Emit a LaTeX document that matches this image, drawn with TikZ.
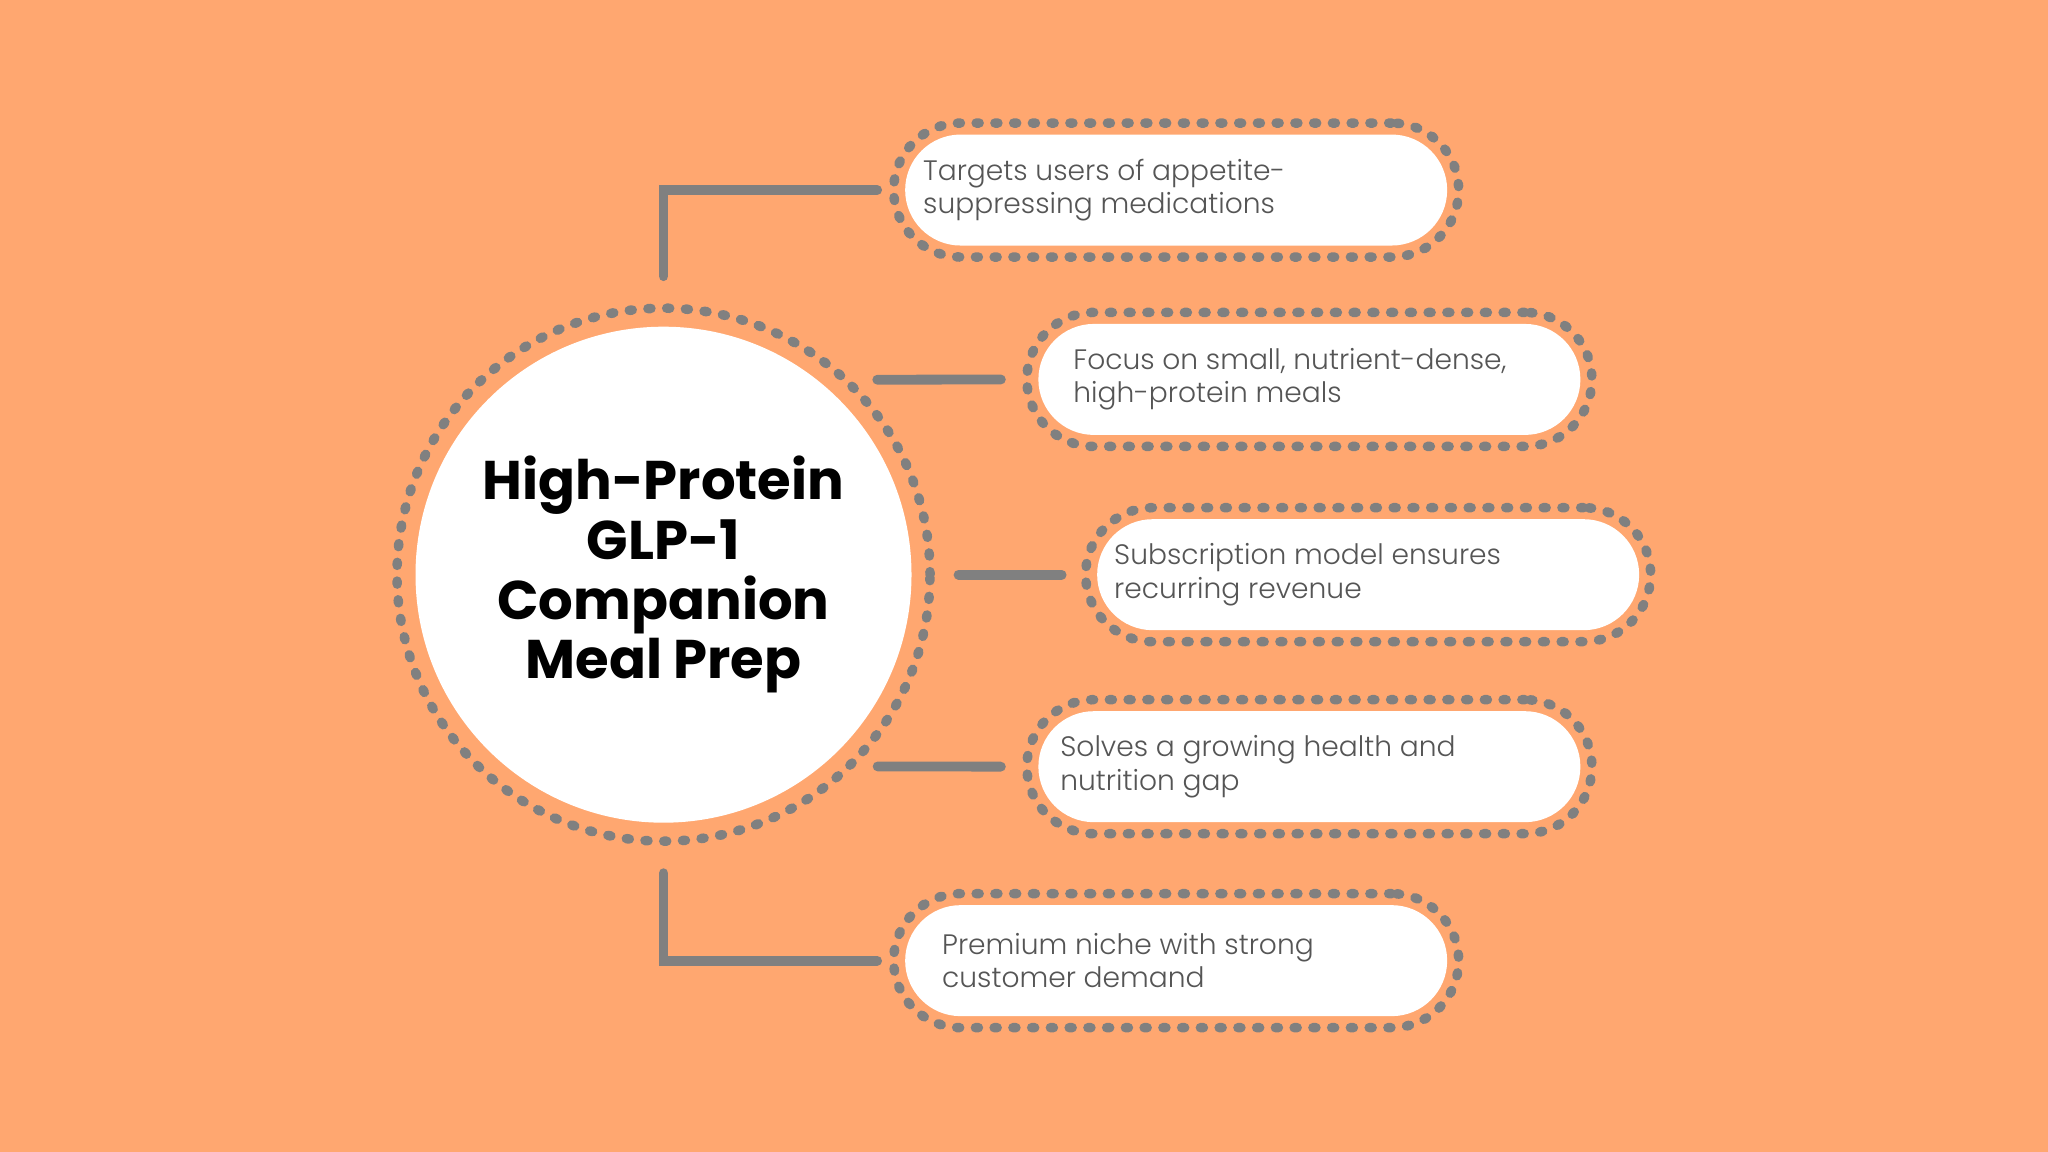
\documentclass[tikz,border=0pt]{standalone}
\usepackage{fontspec}
\usepackage{xcolor}
\usetikzlibrary{positioning}
\setmainfont{Poppins}
\newfontfamily\titlefont{Poppins}[UprightFont={* Bold}]
\newfontfamily\bodyfont{Poppins Light}
\definecolor{bgorange}{RGB}{255,167,112}
\definecolor{linegray}{RGB}{128,128,128}
\definecolor{textgray}{RGB}{85,85,85}

\begin{document}
\begin{tikzpicture}[x=0.013061cm, y=-0.013061cm,
  dots/.style={draw=linegray, line width=0.095cm, line cap=round, dash pattern=on 0.03cm off 0.1575cm},
  hubdisc/.style={circle, fill=white, minimum size=4.96cm, inner sep=0, align=center,
    font=\titlefont\fontsize{15.5}{17}\selectfont},
  hubring/.style={circle, dots, minimum size=5.33cm, inner sep=0, outer sep=0},
  pill/.style={rectangle, fill=white, rounded corners=0.555cm, minimum width=5.42cm, minimum height=1.11cm},
  pillring/.style={rectangle, dots, rounded corners=0.67cm, minimum width=5.65cm, minimum height=1.34cm, outer sep=0},
  itemtext/.style={inner sep=0, align=left, text=textgray, font=\bodyfont\fontsize{8}{9.5}\selectfont},
  link/.style={draw=linegray, line width=0.098cm, line cap=round, line join=miter}
]

% background
\fill[bgorange] (0,0) rectangle (1568,882);
\useasboundingbox (0,0) rectangle (1568,882);

% hub
\node[hubring] (ring) at (508,440) {};
\node[hubdisc] (hub) at (508,440) {High-Protein\\GLP-1\\Companion\\Meal Prep};

% first item
\node[pillring] (b1ring) at (900.5,145.5) {};
\node[pill] (b1) at (900.5,145.5) {};
\node[itemtext, right=0.18cm of b1.west] (t1) {Targets users of appetite-\\suppressing medications};

% second item
\node[pillring] (b2ring) at (1002.5,290.5) {};
\node[pill] (b2) at (1002.5,290.5) {};
\node[itemtext, right=0.35cm of b2.west] (t2) {Focus on small, nutrient-dense,\\high-protein meals};

% third item
\node[pillring] (b3ring) at (1047.5,440) {};
\node[pill] (b3) at (1047.5,440) {};
\node[itemtext, right=0.17cm of b3.west] (t3) {Subscription model ensures\\recurring revenue};

% fourth item
\node[pillring] (b4ring) at (1002.5,587) {};
\node[pill] (b4) at (1002.5,587) {};
\node[itemtext, right=0.22cm of b4.west] (t4) {Solves a growing health and\\nutrition gap};

% fifth item
\node[pillring] (b5ring) at (900.5,735.5) {};
\node[pill] (b5) at (900.5,735.5) {};
\node[itemtext, right=0.37cm of b5.west] (t5) {Premium niche with strong\\customer demand};

% links
\draw[link, shorten <=0.32cm, shorten >=0.165cm] (ring.north) |- (b1ring.west);
\draw[link, shorten <=0.32cm, shorten >=0.26cm] (ring.47) -- (b2ring.west);
\draw[link, shorten <=0.285cm, shorten >=0.24cm] (ring.east) -- (b3ring.west);
\draw[link, shorten <=0.29cm, shorten >=0.26cm] (ring.-46) -- (b4ring.west);
\draw[link, shorten <=0.32cm, shorten >=0.165cm] (ring.south) |- (b5ring.west);

\end{tikzpicture}
\end{document}
